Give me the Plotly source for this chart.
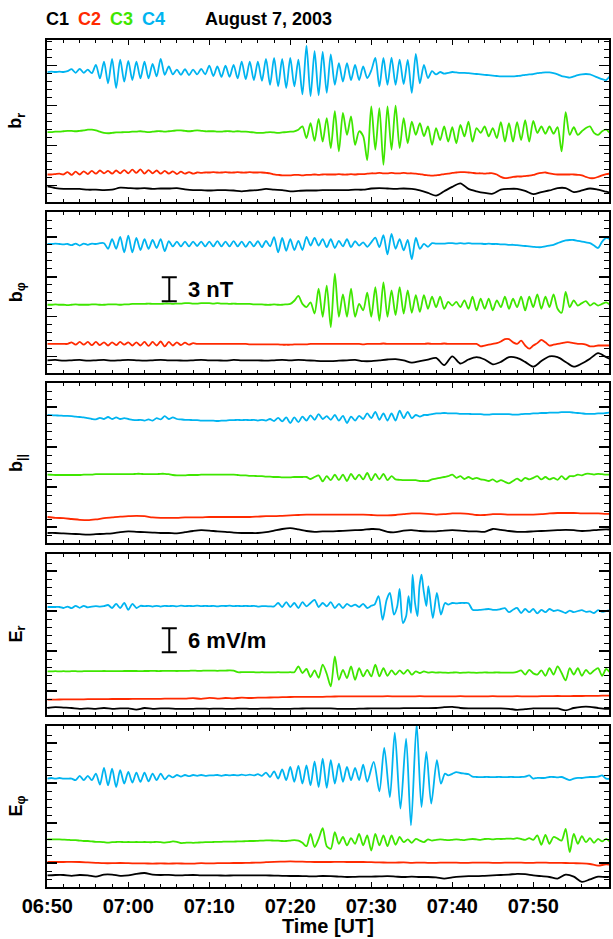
import numpy as np
import pandas as pd
import plotly.graph_objects as go

# ---------------- data (minutes after 06:50 UT; deviations from each trace's rest level) -------------
START = pd.Timestamp("2003-08-07 06:50:00")
X_END_MIN = 69.35
SPACECRAFT = ["C1", "C2", "C3", "C4"]
COLORS = {"C1": "#000000", "C2": "#ff2a00", "C3": "#3fe600", "C4": "#00b4f0"}
PANEL_LABELS = ["b<sub>r</sub>", "b<sub>φ</sub>", "b<sub>||</sub>", "E<sub>r</sub>", "E<sub>φ</sub>"]
HEADER = ["C1", "C2", "C3", "C4"]
TITLE = "August 7, 2003"

# rest levels of the four traces in each panel (nT or mV/m)
BR_OFF = [1.6, 3.4, 8.7, 16.2]
BPHI_OFF = [1.55, 3.6, 8.5, 16.1]
BPAR_OFF = [1.25, 3.25, 8.55, 15.6]
ER_OFF = [1.65, 3.85, 10.9, 27.0]
EPHI_OFF = [2.9, 6.25, 11.8, 27.1]

# ---- panel 1: b_r (nT) ----
BR_C4 = [0, 0.05, 0, 0.05, 0, 0.1, 0.35, -0.1, 0.4, -0.1,
         0.3, -0.15, 0.9, -0.8, 1.3, -1.4, 1.65, -2.0, 1.55, -1.2,
         1.4, -1.0, 1.3, -0.8, 1.3, -0.8, 1.0, -0.55, 1.65, -0.35,
         0.7, -0.3, 0.3, -0.35, 0.35, -0.4, 0.3, -0.3, 0.4, -0.3,
         0.8, -0.5, 0.7, -0.6, 0.8, -0.6, 0.9, -0.8, 1.3, -0.9,
         1.3, -1.0, 1.3, -1.1, 1.65, -1.6, 1.75, -1.8, 1.65, -2.0,
         1.75, -1.8, 1.55, -2.8, 3.3, -3.0, 2.6, -2.9, 2.5, -2.6,
         2.2, -1.6, 1.1, -1.2, 1.1, -1.0, 0.9, -1.0, 0.7, -0.75,
         0.2, 1.75, -1.8, 1.75, -1.6, 1.8, -1.6, 1.55, -1.5, 1.5,
         -2.6, 2.25, -1.4, 0.9, -0.75, 0.1, -0.3, 0.0, -0.2, -0.1,
         0.0, -0.05, -0.1, -0.1, -0.15, -0.2, -0.25, -0.3, -0.35, -0.4,
         -0.45, -0.5, -0.55, -0.55, -0.55, -0.55, -0.5, -0.45, -0.35, -0.3,
         -0.25, -0.15, -0.1, -0.05, -0.05, -0.15, -0.3, -0.5, -0.6, -0.7,
         -0.55, -0.4, -0.3, -0.25, -0.3, -0.5, -0.7, -0.9, -1.0, -0.5,
         -0.3]
BR_C3 = [0, 0, 0.05, 0.05, 0.1, 0.15, 0.15, 0.1, 0.15, 0.2,
         0.3, 0.3, 0.2, 0.05, -0.1, -0.15, -0.1, -0.05, -0.05, 0,
         0, 0.05, 0.05, 0.1, 0.05, 0, 0.05, 0.1, 0.1, 0.05,
         0.1, 0.15, 0.2, 0.2, 0.15, 0.1, 0.15, 0.2, 0.15, 0.1,
         0.1, 0.1, 0.05, 0.05, 0.1, 0.1, 0.05, 0.1, 0.05, 0.05,
         0, -0.05, -0.1, -0.1, -0.05, 0, -0.05, -0.1, -0.05, 0,
         0.05, 0.1, 0.3, 0.7, -0.75, 1.1, -1.1, 1.65, -1.2, 1.75,
         -2.0, 2.6, -2.4, 2.4, -0.35, 1.95, -1.6, 0.1, -0.5, -3.5,
         3.2, -2.2, 3.0, -4.1, 3.2, -2.2, 3.3, -2.0, 1.75, -1.4,
         1.3, -0.35, 1.1, -0.5, 0.7, -1.6, 0.5, -1.0, 0.7, -1.2,
         0.6, -1.4, 0.9, -0.55, 1.3, -1.2, 0.5, -0.1, 0.7, -0.55,
         0.5, -0.75, 1.25, -1.2, 1.1, -1.2, 1.25, -1.0, 1.5, -1.2,
         1.4, -0.1, 0.7, -0.2, 0.7, -0.2, 0.6, -2.4, 2.5, -0.35,
         0.6, -0.35, 0.1, 0.5, 0.7, -0.1, -0.35, 0.1, 0.3, -0.1,
         0.0]
BR_C2 = [0, 0, 0.05, 0.1, 0, 0.3, -0.05, 0.35, 0, 0.4,
         0.05, 0.45, 0.1, 0.5, 0.15, 0.45, 0.1, 0.5, 0.15, 0.55,
         0.15, 0.6, 0.2, 0.65, 0.1, 0.55, 0.15, 0.5, 0.1, 0.45,
         0.1, 0.4, 0.05, 0.35, 0.1, 0.3, 0.1, 0.25, 0.2, 0.25,
         0.25, 0.3, 0.25, 0.25, 0.3, 0.25, 0.25, 0.3, 0.25, 0.25,
         0.3, 0.25, 0.25, 0.25, 0.2, 0.15, 0.0, -0.05, -0.1, -0.1,
         -0.1, -0.05, -0.05, -0.1, -0.05, -0.05, 0, -0.05, 0, 0,
         0, 0, 0.05, 0, 0, 0.05, 0, 0.05, 0.05, 0.1,
         0.15, 0.15, 0.2, 0.15, 0.15, 0.2, 0.15, 0.15, 0.2, 0.15,
         0.15, 0.1, 0.05, -0.05, -0.1, -0.15, -0.1, -0.05, 0.05, 0.1,
         0.2, 0.25, 0.3, 0.3, 0.25, 0.2, 0.15, 0.15, 0.1, 0.15,
         0.15, 0.0, -0.3, -0.45, -0.4, -0.3, -0.25, -0.25, -0.2, -0.15,
         -0.05, 0.1, 0.2, 0.25, 0.15, 0.05, 0, 0, 0, 0,
         0, -0.05, -0.1, -0.3, -0.45, -0.45, -0.3, -0.1, 0.05, 0.1,
         0.1]
BR_C1 = [0.3, 0.1, 0, 0, 0, -0.1, -0.1, -0.15, -0.1, 0.15,
         0.1, 0.05, 0.1, 0, 0.05, 0.05, 0.1, -0.05, -0.15, -0.15,
         -0.2, -0.15, -0.15, -0.2, -0.3, -0.2, -0.15, 0, -0.1, -0.15,
         -0.3, -0.25, -0.2, -0.2, -0.15, -0.15, -0.15, -0.15, -0.1, -0.1,
         0.05, 0.1, 0.05, 0, 0.05, 0, -0.2, -0.5, -0.85, -0.3,
         0.25, 0.7, 0, -0.3, -0.5, -0.6, -0.1, 0, 0, -0.25,
         -0.65, -0.4, -0.2, 0.1, 0.1, -0.4, -0.2, 0.05, -0.1, -0.35,
         -0.6]

# ---- panel 2: b_phi (nT) ----
BPHI_C4 = [0, 0, 0.05, 0, -0.05, 0, -0.15, 0.05, -0.2, 0.05,
           -0.1, 0.05, 0, 0.1, 0.1, -0.6, 0.6, -0.6, 0.9, -1.05,
           1.05, -1.05, 0.75, -0.75, 0.6, -0.6, 0.5, -0.5, 0.6, -0.9,
           0.35, -0.3, 0.3, -0.3, 0.3, -0.3, 0.3, -0.25, 0.3, -0.3,
           0.3, -0.3, 0.35, -0.3, 0.3, -0.3, 0.35, -0.3, 0.3, -0.35,
           0.3, -0.3, 0.35, -0.4, 0.4, -0.3, 0.85, -1.05, 0.75, -0.85,
           0.6, -0.75, 0.4, -0.75, 0.9, -0.2, 0.75, -0.2, 0.6, -0.4,
           0.6, -0.5, 0.4, -0.3, 0.6, -0.4, 0.35, -0.2, 0.2, -0.35,
           0.2, 0.8, -0.4, 1.1, -1.3, 1.25, -0.6, 0.6, -0.8, 0.5,
           -1.9, 0.75, -0.6, 0.0, -0.35, 0.1, 0.05, 0.05, 0.05, 0.1,
           0.1, 0.05, 0.1, 0.05, 0.1, 0.05, 0.05, 0.05, 0.0, 0.05,
           0.0, 0.0, -0.05, -0.05, -0.1, -0.1, -0.15, -0.2, -0.25, -0.3,
           -0.35, -0.4, -0.4, -0.3, -0.2, -0.1, 0.1, 0.3, 0.45, 0.5,
           0.5, 0.4, 0.3, 0.2, 0.1, -0.2, -0.5, 0.3, 0.75, 0.6,
           0.3]
BPHI_C3 = [0, 0, 0.05, 0, 0, -0.05, 0, 0.05, 0, 0,
           0, 0.05, 0.05, 0, 0, 0.05, 0.05, 0.05, 0, 0.05,
           0.05, 0.1, 0.1, 0.1, 0.1, 0.15, 0.1, 0.1, 0.1, 0.15,
           0.15, 0.1, 0.15, 0.15, 0.2, 0.2, 0.15, 0.15, 0.2, 0.2,
           0.2, 0.15, 0.2, 0.15, 0.15, 0.1, 0.15, 0.1, 0.1, 0.1,
           0.1, 0.05, 0.05, 0.05, 0.0, 0.0, 0.05, 0.0, 0.0, 0.05,
           0.1, 0.5, 1.1, 0.1, -0.3, 0.3, -1.1, 2.0, -1.5, 2.4,
           -2.8, 3.9, -1.5, 1.3, -1.5, 2.0, -1.5, 0.1, -0.7, 1.5,
           -1.5, 2.2, -2.0, 2.8, -1.5, 1.8, -1.3, 2.2, -1.1, 1.8,
           -1.0, 1.2, -0.9, 1.2, -0.5, 1.0, -0.3, 1.0, -0.5, 0.35,
           -0.1, 0.35, -0.3, 0.55, -0.5, 1.0, -0.7, 0.75, -0.5, 0.75,
           -0.7, 0.55, -0.3, 1.0, -0.5, 0.75, -0.3, 1.0, -0.7, 1.0,
           -0.3, 1.3, -0.5, 1.0, -0.3, 1.3, -0.5, -1.0, 1.6, -0.3,
           0.55, -0.1, 0.2, 0.45, -0.1, 0.2, -0.1, 0.1, 0.3, 0.0,
           0.05]
BPHI_C2 = [0, 0, 0, 0, 0, 0, 0.2, -0.1, 0.25, -0.1,
           0.25, -0.15, 0.25, -0.15, 0.2, -0.2, 0.2, -0.15, 0.25, -0.1,
           0.2, -0.2, 0.2, -0.2, 0.25, -0.25, 0.25, -0.2, 0.3, -0.3,
           0.25, -0.2, 0.2, -0.15, 0.15, -0.1, 0.1, 0, 0, 0,
           0, 0, 0, 0, 0, 0, 0, 0, 0, 0,
           -0.05, -0.05, -0.05, -0.05, -0.05, -0.05, -0.05, -0.05, -0.1, -0.1,
           -0.1, -0.05, -0.05, -0.05, -0.05, 0, 0, 0, 0, 0,
           0, 0, 0, 0, 0, 0, 0, 0, -0.05, 0,
           0, 0, 0, 0.05, 0, 0, 0, 0, 0, 0,
           0, 0, 0, 0, 0.05, 0, 0, 0, 0.05, 0,
           0, 0, 0, 0, 0, 0, 0, -0.3, -0.2, -0.1,
           0, 0.1, 0.3, 0.6, 0.6, 0.2, 0, 0.4, -0.2, -0.6,
           -0.2, 0.1, 0.5, 0.2, -0.2, -0.1, 0, 0.1, 0.2, 0.2,
           0.1, 0, 0, -0.1, -0.3, -0.3, -0.2, -0.2, -0.2, -0.2,
           -0.2]
BPHI_C1 = [0, 0.05, -0.05, 0, 0.05, -0.05, 0, 0.05, -0.05, 0,
           0.05, 0, -0.05, 0, 0.05, 0, 0, -0.05, 0, 0.05,
           0, 0, -0.05, 0.05, 0, 0, 0, -0.05, 0, 0.05,
           0, 0.05, 0, -0.05, -0.1, -0.1, -0.05, 0, 0.05, -0.1,
           -0.1, 0, 0.1, 0.15, 0, -0.3, -0.1, 0.1, 0.3, -0.6,
           0.5, -0.4, 0.1, 0.4, 0.1, -0.5, -0.2, 0.4, 0.3, -0.2,
           -0.8, -0.1, 0.5, 0.4, -0.2, -0.8, -0.4, 0.2, 0.9, 0.4,
           -0.1]

# ---- panel 3: b_parallel (nT) ----
BPAR_C4 = [0.4, 0.38, 0.35, 0.33, 0.3, 0.28, 0.25, 0.2, 0.15, 0.1,
           0.0, -0.1, -0.15, 0.05, -0.1, 0.15, -0.1, 0.1, -0.1, 0.0,
           -0.1, -0.2, -0.25, -0.2, -0.3, -0.15, -0.3, 0.0, -0.15, 0.25,
           -0.1, 0.1, -0.1, -0.15, -0.2, -0.2, -0.25, -0.25, -0.3, -0.3,
           -0.3, -0.3, -0.35, -0.3, -0.3, -0.25, -0.25, -0.2, -0.25, -0.2,
           -0.25, -0.2, -0.3, -0.2, -0.3, -0.1, -0.35, 0.05, -0.4, 0.1,
           -0.6, 0.1, -0.5, 0.2, -0.3, 0.35, -0.2, 0.5, -0.1, 0.25,
           -0.2, 0.4, -0.3, 0.3, -0.6, 0.2, -0.3, 0.3, -0.1, 0.6,
           0.0, 0.8, -0.2, 0.6, -0.3, 0.6, -0.3, 0.95, 0.0, 0.8,
           0.0, 0.4, 0.2, 0.4, 0.4, 0.5, 0.6, 0.6, 0.65, 0.6,
           0.6, 0.6, 0.55, 0.55, 0.55, 0.5, 0.5, 0.5, 0.45, 0.45,
           0.5, 0.5, 0.5, 0.5, 0.5, 0.45, 0.45, 0.5, 0.55, 0.55,
           0.6, 0.6, 0.65, 0.65, 0.7, 0.7, 0.7, 0.75, 0.75, 0.75,
           0.7, 0.65, 0.6, 0.55, 0.55, 0.55, 0.6, 0.6, 0.65, 0.7,
           0.7]
BPAR_C3 = [0, -0.02, -0.05, -0.05, -0.05, -0.05, -0.05, -0.05, -0.05, 0,
           0, 0, 0.05, 0.05, 0.05, 0.05, 0.05, 0.05, 0.05, 0.05,
           0.05, 0.05, 0.1, 0.1, 0.05, 0.05, 0.05, 0.05, 0.1, 0.1,
           0.05, -0.05, -0.1, -0.1, -0.1, -0.05, -0.05, -0.05, 0, 0,
           0, 0, 0, 0, 0, 0, 0, -0.05, -0.1, -0.1,
           -0.15, -0.15, -0.2, -0.2, -0.25, -0.25, -0.3, -0.3, -0.35, -0.35,
           -0.35, -0.3, -0.3, -0.3, -0.3, -0.55, -0.3, -0.1, -0.85, -0.2,
           -0.7, 0.0, -0.7, 0.0, -0.8, 0.1, -0.6, 0.0, -0.6, 0.2,
           -0.7, 0.1, -0.6, 0.1, -0.7, -0.2, -0.6, -0.65, -0.7, -0.7,
           -0.7, -0.7, -0.8, -0.8, -0.8, -0.6, -0.5, -0.4, -0.3, -0.2,
           0.0, -0.4, -0.2, -0.55, -0.3, -0.55, -0.4, -0.6, -0.65, -0.8,
           -0.6, -0.9, -0.7, -0.9, -1.1, -0.8, -0.5, -0.8, -0.4, -0.6,
           -0.4, -0.2, -0.6, -0.3, -0.6, -0.4, -0.65, -0.2, -0.6, -0.2,
           -0.2, 0.0, -0.1, 0.1, 0.1, 0.0, 0.1, 0.05, 0.0, 0.0,
           0.0]
BPAR_C2 = [0, -0.1, -0.15, -0.25, -0.35, -0.4, -0.3, -0.15, -0.05, 0.05,
           0.1, 0.15, 0.1, -0.05, -0.1, -0.1, -0.1, -0.05, -0.05, -0.05,
           0, 0, 0, 0, 0, 0, 0.05, 0.1, 0.1, 0.15,
           0.2, 0.25, 0.3, 0.3, 0.3, 0.3, 0.3, 0.3, 0.3, 0.3,
           0.25, 0.2, 0.2, 0.25, 0.35, 0.45, 0.45, 0.4, 0.3, 0.35,
           0.45, 0.45, 0.4, 0.25, 0.25, 0.35, 0.35, 0.3, 0.3, 0.3,
           0.3, 0.35, 0.45, 0.5, 0.5, 0.5, 0.45, 0.45, 0.45, 0.4,
           0.4]
BPAR_C1 = [0, 0, -0.05, -0.1, -0.15, -0.2, -0.15, -0.1, -0.05, 0.1,
           0.2, 0.15, 0.1, 0.05, 0, 0, -0.05, 0.1, 0.25, 0.35,
           0.3, 0.2, 0.15, 0.05, 0, 0, 0, 0.1, 0.3, 0.5,
           0.6, 0.45, 0.25, 0.15, 0.2, 0.2, 0.25, 0.3, 0.35, 0.4,
           0.5, 0.45, 0.15, 0.1, 0.3, 0.35, 0.25, 0.2, 0.2, 0.3,
           0.35, 0.3, 0.2, 0.2, 0.15, 0.5, 0.4, 0.25, 0.15, 0.15,
           0.2, 0.25, 0.3, 0.35, 0.4, 0.35, 0.25, 0.3, 0.4, 0.45,
           0.4]

# ---- panel 4: E_r (mV/m) ----
ER_C4_PRE = [0, 0, 0, 0, -0.25, 0.1, -0.3, 0.3, -0.2, 0.3,
             -0.1, 0.1, 0.2, 0.1, 0.2, 0.5, -0.25, 0.8, -0.25, 1.0,
             -0.7, 0.8, -0.25, 0.3, 0.2, 0.3, 0.1, 0.3, 0.1, 0.3,
             0.2, 0.3, 0.15, 0.35, 0.2, 0.3, 0.2, 0.35, 0.2, 0.3,
             0.2, 0.3, 0.15, 0.3, 0.25, 0.35, 0.2, 0.3, 0.2, 0.3,
             0.2, 0.3, 0.1, 0.2, 0.2, 0.15, 0.15, 1.0, 0.0, 1.2,
             0.0, 1.0, -0.25, 1.2, 0.15, 1.0, 1.8, 0.0, 1.0, 0.15,
             1.2, -0.25, 0.8, -0.25, 0.8, 0.15, 0.6, 0.0, 0.8, -0.25,
             0.3]
ER_C4_PK_T = [40.4, 40.9, 41.4, 41.9, 42.3, 42.8, 43.2, 43.5, 43.9, 44.3, 44.6, 44.9,
              45.1, 45.4, 45.7, 45.95, 46.2, 46.45, 46.8, 47.05, 47.6, 48.1, 48.6, 49.1]
ER_C4_PK_V = [0.6, 2.7, -3.2, 1.8, 3.5, -1.9, 0.15, 4.5, -4.0, -2.3, 2.7, -1.5,
              8.1, 1.0, -2.3, 5.2, 8.1, 4.3, 0.2, 5.2, -2.75, 3.5, -1.9, 1.0]
ER_C4_POST = [0.6, 1.0, 0.9, 1.0, 1.0, 0.95, -0.7, -0.8, -0.7, -0.6,
              -0.5, -0.7, -0.7, -0.5, -0.3, -1.3, -0.7, -0.25, -1.5, -0.5,
              -1.3, -0.5, -1.6, -0.7, -1.3, -0.5, -1.0, -0.8, -1.1, -1.5,
              -0.9, -1.3, -1.0, -0.8, -1.2, -1.1, -1.5, -0.8, -1.2, -1.0,
              -0.8, -0.8]
ER_C3 = [0, 0, 0.05, 0, 0.05, 0, 0.05, 0.05, 0, 0.05,
         0.05, 0.05, 0.05, 0.05, 0.1, 0.05, 0.05, 0.05, 0.05, 0.1,
         0.1, 0.1, 0.1, 0.05, 0.1, 0.1, 0.15, 0.1, 0.1, 0.15,
         0.15, 0.15, 0.1, 0.15, 0.15, 0.15, 0.2, 0.15, 0.15, 0.2,
         0.2, 0.2, 0.15, 0.2, 0.2, 0.25, 0.2, -0.2, -0.2, -0.2,
         -0.2, -0.2, -0.25, -0.2, -0.25, -0.25, -0.25, -0.2, -0.25, -0.25,
         -0.2, -0.2, 1.25, -0.4, 0.6, -1.4, 0.25, -1.6, 1.7, -0.6,
         -3.75, 3.75, -2.1, 0.4, -1.7, 1.25, -2.1, 0.8, -1.25, 0.4,
         -1.25, 1.7, -1.25, 0.8, -1.1, 0.25, -0.8, 0.25, -0.6, 0.4,
         -0.8, 0.0, -0.4, 0.0, -0.3, -0.2, -0.3, -0.25, -0.3, -0.35,
         -0.3, -0.25, -0.35, -0.3, -0.25, -0.3, -0.35, -0.3, -0.25, -0.3,
         -0.3, -0.25, -0.3, -0.3, -0.3, -0.3, -0.1, 0.25, -0.8, 0.4,
         -0.5, -0.8, 0.25, -1.1, 0.8, -0.8, 1.25, -0.4, -2.25, 0.8,
         -0.8, 0.8, -1.1, 0.4, -0.6, 0.2, 0.8, -1.1, 0.6, -0.25,
         0.0]
ER_C2 = [0, 0, 0.05, 0.05, 0.05, 0.1, 0.1, 0.1, 0.15, 0.15,
         0.15, 0.2, 0.2, 0.2, 0.2, 0.25, 0.25, 0.25, 0.35, 0.2,
         0.45, 0.25, 0.4, 0.3, 0.5, 0.4, 0.5, 0.5, 0.55, 0.6,
         0.65, 0.7, 0.7, 0.7, 0.7, 0.75, 0.8, 0.8, 0.8, 0.8,
         0.8, 0.8, 0.85, 0.8, 0.8, 0.8, 0.85, 0.8, 0.8, 0.8,
         0.8, 0.85, 0.8, 0.8, 0.8, 0.85, 0.8, 0.8, 0.85, 0.8,
         0.8, 0.85, 0.85, 0.9, 0.85, 0.9, 0.9, 0.95, 0.95, 1.0,
         1.0]
ER_C1 = [0.1, 0.3, 0.2, 0.1, -0.1, 0, -0.1, 0.1, -0.1, 0,
         0, -0.3, 0.1, -0.1, 0, 0, -0.1, -0.1, -0.1, -0.05,
         -0.1, -0.05, -0.1, -0.1, -0.05, -0.1, -0.1, -0.05, -0.1, -0.1,
         -0.1, -0.05, 0, 0, 0, 0, -0.1, -0.1, -0.1, -0.05,
         0, 0, 0, 0, 0.05, 0.05, 0.05, 0.05, 0.1, 0.3,
         0.4, 0.1, 0, 0, 0, 0, 0, -0.1, -0.35, -0.2,
         0, 0, 0, 0, -0.5, 0.1, 0.4, 0.4, 0.1, -0.1,
         0]

# ---- panel 5: E_phi (mV/m) ----
EPHI_C4_PRE = [0.0, 0.15, 0.0, 0.15, 0.0, 0.0, 0.0, -0.4, 0.7, -0.4,
               0.7, -0.4, 1.25, -1.5, 2.7, -1.7, 2.5, -2.1, 2.1, -1.25,
               1.7, -1.0, 1.5, -0.8, 1.5, -0.7, 1.25, -0.4, 1.25, -0.2,
               0.8, 0.3, 0.9, 0.5, 0.9, 0.6, 0.9, 0.7, 0.9, 0.7,
               0.8, 0.8, 0.9, 0.7, 0.9, 0.8, 0.9, 0.8, 1.0, 0.8,
               1.0, 0.8, 1.1, 0.7, 1.5, 0.4, 1.8, 0.0, 2.3, -0.4,
               2.9, -0.8, 3.2, -1.25, 3.3, -1.7, 4.3, -2.1, 5.0, -2.3,
               4.6, -1.25, 3.75, -0.8, 2.9, -0.4, 2.7, -0.4, 3.5, -0.8]
EPHI_C4_PK_T = [40.3, 41.0, 41.6, 42.3, 42.9, 43.6, 44.3, 44.9, 45.6, 46.2, 46.8, 47.4,
                48.1, 48.6, 49.1]
EPHI_C4_PK_V = [4.2, -3.2, 7.7, -4.6, 11.5, -7.5, 10.0, -11.7, 13.6, -7.1, 6.7, -6.25,
                4.6, -1.25, 1.25]
EPHI_C4_POST = [0.8, 1.2, 1.6, 1.4, 1.25, 1.1, 0.5, 0.4, 0.35, 0.4,
                0.4, 0.35, 0.4, 0.4, 0.35, 0.4, 0.4, 0.35, 0.4, 0.5,
                0.8, 0.0, 0.2, 0.15, 0.2, 0.4, 0.4, 0.3, 0.4, 0.0,
                -0.4, 0.0, 0.2, 0.15, 0.3, 0.4, 0.4, 0.5, 0.8, 0.0,
                -0.1, -0.2]
EPHI_C3 = [0.1, 0.1, 0.1, 0.1, 0.05, 0.0, -0.1, -0.1, -0.2, -0.3,
           -0.3, -0.4, -0.5, -0.5, -0.6, -0.7, -0.6, -0.55, -0.5, -0.6,
           -0.55, -0.6, -0.55, -0.6, -0.55, -0.6, -0.6, -0.5, -0.6, -0.7,
           -0.6, -0.4, -0.5, -0.8, -0.75, -0.7, -0.75, -0.7, -0.65, -0.6,
           -0.6, -0.55, -0.5, -0.5, -0.45, -0.45, -0.45, -0.4, -0.4, -0.35,
           -0.3, -0.3, -0.25, -0.2, -0.15, -0.15, -0.2, -0.2, -0.3, -0.3,
           -0.2, -0.1, -0.2, -0.75, -1.6, 1.5, -1.8, 0.25, 2.9, -1.6,
           -2.25, 1.9, -1.0, 0.7, -1.4, 0.4, -1.0, 1.5, -1.4, 1.1,
           -2.7, 1.5, -1.4, 1.1, -1.6, 1.1, -1.25, 0.7, -0.6, 0.1,
           -0.75, 0.25, -0.2, -0.6, 0.1, -0.2, 0.0, 0.1, 0.0, -0.1,
           0.0, 0.1, 0.0, -0.1, 0.1, 0.2, 0.1, 0.0, 0.2, 0.25,
           0.1, 0.25, 0.2, 0.25, 0.3, 0.25, 0.4, 0.2, 0.0, 0.4,
           0.0, 1.1, -1.25, 1.25, -1.0, 0.7, 0.3, -0.2, 2.75, -3.1,
           1.5, -1.0, 0.9, -0.6, 0.4, -0.75, 0.25, -0.4, 0.25, -0.4,
           0.4]
EPHI_C2 = [0, 0, 0, 0.05, 0, -0.1, -0.2, -0.3, -0.3, -0.25,
           -0.3, -0.35, -0.35, -0.4, -0.35, -0.4, -0.35, -0.4, -0.4, -0.3,
           -0.35, -0.3, -0.3, -0.25, -0.25, -0.2, -0.15, -0.05, 0.05, 0.1,
           0.15, 0.1, 0.05, 0, 0, 0, 0.05, 0, 0, 0,
           -0.05, -0.1, -0.15, -0.15, -0.1, -0.2, -0.15, -0.2, -0.2, -0.15,
           -0.15, -0.2, -0.2, -0.15, -0.15, -0.2, -0.2, -0.15, -0.15, -0.2,
           -0.2, -0.15, -0.2, -0.2, -0.25, -0.3, -0.35, -0.5, -0.9, -0.6,
           -0.9]
EPHI_C1 = [0, 0.1, 0.1, -0.1, 0.1, 0, -0.3, 0.2, 0.2, -0.1,
           0, 0.4, 0.6, 0.2, 0.1, 0.15, 0, 0.05, 0.1, 0,
           0, 0, -0.05, 0, 0, 0, 0, 0, -0.05, -0.1,
           -0.15, -0.15, -0.2, -0.25, -0.15, -0.2, -0.3, -0.4, -0.35, -0.3,
           -0.3, -0.25, -0.2, -0.3, -0.4, -0.3, -0.4, -0.4, -0.5, -0.8,
           -0.5, -0.3, -0.2, -0.2, -0.1, 0, 0.1, 0.2, 0.4, 0.3,
           0, -0.2, -0.4, -0.8, 0.2, -0.3, -1.6, -1.0, -0.3, -0.4,
           -0.2]

# scale bars: (panel index, bar length, label)
SCALE_BARS = [(1, 3.0, "3 nT"), (3, 6.0, "6 mV/m")]

# ---------------- helpers ----------------
def full(vals):
    return np.linspace(0.0, 70.0, len(vals)), np.asarray(vals, float)

def with_packet(pre, pre_end, pk_t, pk_v, post, post_start=49.5):
    t = np.concatenate([np.linspace(0.0, pre_end, len(pre)), np.asarray(pk_t, float),
                        np.linspace(post_start, 70.0, len(post))])
    v = np.concatenate([np.asarray(pre, float), np.asarray(pk_v, float), np.asarray(post, float)])
    return t, v

PANELS = [
    dict(offs=BR_OFF, series=[full(BR_C1), full(BR_C2), full(BR_C3), full(BR_C4)], top=40, bot=201.7, ymax=20.2, t0=2, dt=5, mdt=1),
    dict(offs=BPHI_OFF, series=[full(BPHI_C1), full(BPHI_C2), full(BPHI_C3), full(BPHI_C4)], top=212, bot=372.7, ymax=20.1, t0=2, dt=5, mdt=1),
    dict(offs=BPAR_OFF, series=[full(BPAR_C1), full(BPAR_C2), full(BPAR_C3), full(BPAR_C4)], top=383, bot=543, ymax=20.0, t0=2, dt=5, mdt=1),
    dict(offs=ER_OFF, series=[full(ER_C1), full(ER_C2), full(ER_C3),
                              with_packet(ER_C4_PRE, 40.0, ER_C4_PK_T, ER_C4_PK_V, ER_C4_POST)],
         top=554, bot=715, ymax=40.25, t0=6, dt=10, mdt=2),
    dict(offs=EPHI_OFF, series=[full(EPHI_C1), full(EPHI_C2), full(EPHI_C3),
                                with_packet(EPHI_C4_PRE, 39.5, EPHI_C4_PK_T, EPHI_C4_PK_V, EPHI_C4_POST)],
         top=726, bot=887, ymax=40.25, t0=6, dt=10, mdt=2),
]

W, H = 613, 939
X0_PX, X1_PX = 47.3, 609.0
FONT = "Liberation Sans, Arial, Helvetica, sans-serif"

def tmin(m):
    return START + pd.to_timedelta(m, unit="min")

fig = go.Figure()
layout = dict(template="none", width=W, height=H, margin=dict(l=0, r=0, t=0, b=0, pad=0, autoexpand=False),
              paper_bgcolor="white", plot_bgcolor="white", showlegend=False,
              font=dict(family=FONT, color="black"))

for i, p in enumerate(PANELS):
    n = i + 1
    xa = "x" if n == 1 else f"x{n}"
    ya = "y" if n == 1 else f"y{n}"
    for sc, off, (t, v) in zip(SPACECRAFT, p["offs"], p["series"]):
        fig.add_trace(go.Scatter(x=tmin(t), y=v + off, mode="lines", xaxis=xa, yaxis=ya,
                                 line=dict(color=COLORS[sc], width=1.8, shape="spline", smoothing=0.8),
                                 hoverinfo="skip"))
    layout[f"xaxis{n if n > 1 else ''}"] = dict(
        domain=[X0_PX / W, X1_PX / W], anchor=ya, type="date", automargin=False,
        range=[tmin(0.0), tmin(X_END_MIN)],
        tick0=START, dtick=600000, tickformat="%H:%M",
        ticks="inside", ticklen=5, tickwidth=1.5, tickcolor="black",
        minor=dict(dtick=120000, tick0=START, ticks="inside", ticklen=3, tickwidth=1, tickcolor="black"),
        showline=True, linewidth=2, linecolor="black", mirror="ticks",
        showgrid=False, zeroline=False, showticklabels=(n == 5),
        tickfont=dict(family=FONT, size=20, weight="bold", color="black"))
    layout[f"yaxis{n if n > 1 else ''}"] = dict(
        domain=[1 - p["bot"] / H, 1 - p["top"] / H], anchor=xa, automargin=False,
        range=[0, p["ymax"]], tick0=p["t0"], dtick=p["dt"],
        ticks="inside", ticklen=10, tickwidth=1.5, tickcolor="black",
        minor=dict(dtick=p["mdt"], tick0=0, ticks="inside", ticklen=5, tickwidth=1, tickcolor="black"),
        showline=True, linewidth=2, linecolor="black", mirror="ticks",
        showgrid=False, zeroline=False, showticklabels=False)

annotations = []
shapes = []
# panel labels
for i, (p, lab) in enumerate(zip(PANELS, PANEL_LABELS)):
    yc = 1 - (p["top"] + p["bot"]) / 2 / H
    annotations.append(dict(x=17 / W, y=yc, xref="paper", yref="paper", text=lab, showarrow=False,
                            textangle=-90, xanchor="center", yanchor="middle",
                            font=dict(family=FONT, size=18, weight="bold", color="black")))
# header
hx = [44.0, 76.0, 108.0, 140.0]
for sc, x in zip(HEADER, hx):
    annotations.append(dict(x=x / W, y=1 - 19 / H, xref="paper", yref="paper", text=sc, showarrow=False,
                            xanchor="left", yanchor="middle",
                            font=dict(family=FONT, size=18, weight="bold", color=COLORS[sc])))
annotations.append(dict(x=203 / W, y=1 - 19 / H, xref="paper", yref="paper", text=TITLE, showarrow=False,
                        xanchor="left", yanchor="middle",
                        font=dict(family=FONT, size=18, weight="bold", color="black")))
# x title
annotations.append(dict(x=(X0_PX + X1_PX) / 2 / W, y=1 - 926 / H, xref="paper", yref="paper",
                        text="Time [UT]", showarrow=False, xanchor="center", yanchor="middle",
                        font=dict(family=FONT, size=20, weight="bold", color="black")))
# scale bars
for idx, length, label in SCALE_BARS:
    p = PANELS[idx]
    n = idx + 1
    xr, yr = f"x{n}", f"y{n}"
    unit_px = (p["bot"] - p["top"]) / p["ymax"]
    ybar0 = (p["bot"] - (301.3 if idx == 1 else 652.3)) / unit_px
    ybar1 = ybar0 + length
    tc, hw = 15.06, 0.93
    shapes.append(dict(type="line", xref=xr, yref=yr, x0=tmin(tc), x1=tmin(tc), y0=ybar0, y1=ybar1,
                       line=dict(color="black", width=2)))
    for yy in (ybar0, ybar1):
        shapes.append(dict(type="line", xref=xr, yref=yr, x0=tmin(tc - hw), x1=tmin(tc + hw), y0=yy, y1=yy,
                           line=dict(color="black", width=2)))
    annotations.append(dict(x=tmin(17.1), y=ybar0 + 0.5 * length, xref=xr, yref=yr, text=label,
                            showarrow=False, xanchor="left", yanchor="middle",
                            font=dict(family=FONT, size=22, weight="bold", color="black")))

layout["annotations"] = annotations
layout["shapes"] = shapes
fig.update_layout(**layout)
fig.write_html("out.html",
               config={"displayModeBar": False, "staticPlot": True},
               post_script="document.body.style.margin='0px';document.body.style.padding='0px';"
                           "document.documentElement.style.overflow='hidden';")
